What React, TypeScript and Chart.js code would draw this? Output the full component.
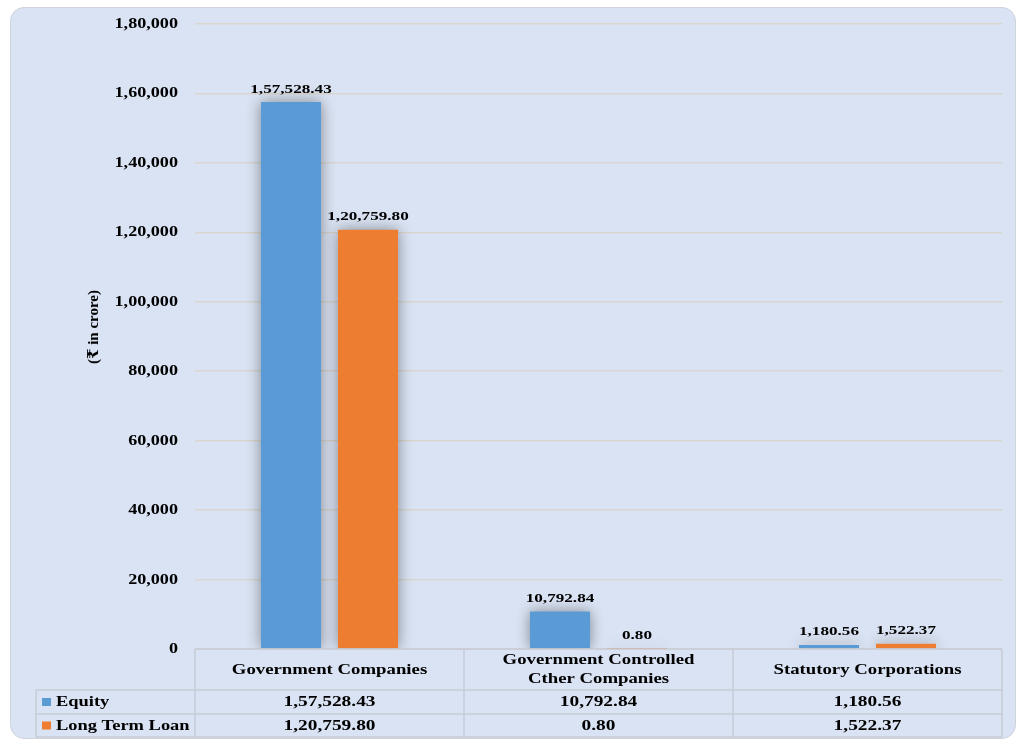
import React, { useEffect, useRef } from "react";
import { Chart, registerables } from "chart.js";

Chart.register(...registerables);

const categories: string[][] = [
  ["Government Companies"],
  ["Government Controlled", "Cther Companies"],
  ["Statutory Corporations"],
];
const seriesNames = ["Equity", "Long Term Loan"];
const equity = [157528.43, 10792.84, 1180.56];
const longTermLoan = [120759.8, 0.8, 1522.37];
const yTickValues = [0, 20000, 40000, 60000, 80000, 100000, 120000, 140000, 160000, 180000];
const yTickLabels = ["0", "20,000", "40,000", "60,000", "80,000", "1,00,000", "1,20,000", "1,40,000", "1,60,000", "1,80,000"];
const yTitle = "(₹ in crore)";

const seriesColors = ["#5b9bd5", "#ed7d31"];
const FONT = '"Liberation Serif", "DejaVu Serif", serif';
const TEXT = "#000000";
const LINE = "#c6ccd6";

function fmtIN(v: number, dec: number): string {
  const s = Math.abs(v).toFixed(dec);
  const [intPart, frac] = s.split(".");
  let last3 = intPart.slice(-3);
  let rest = intPart.slice(0, -3);
  if (rest) {
    rest = rest.replace(/\B(?=(\d{2})+(?!\d))/g, ",");
    last3 = rest + "," + last3;
  }
  return (v < 0 ? "-" : "") + last3 + (frac ? "." + frac : "");
}

function drawScaled(
  ctx: CanvasRenderingContext2D,
  text: string,
  x: number,
  y: number,
  align: CanvasTextAlign,
  sx: number,
  baseline: CanvasTextBaseline = "middle"
) {
  ctx.save();
  ctx.translate(x, y);
  ctx.scale(sx, 1);
  ctx.textAlign = align;
  ctx.textBaseline = baseline;
  ctx.fillText(text, 0, 0);
  ctx.restore();
}

const tablePlugin = {
  id: "tablePlugin",
  beforeDatasetsDraw(chart: any) {
    const c = chart.ctx as CanvasRenderingContext2D;
    c.save();
    c.shadowColor = "rgba(0,0,0,0.42)";
    c.shadowBlur = 14;
    c.shadowOffsetX = 0;
    c.shadowOffsetY = 0;
  },
  afterDatasetsDraw(chart: any) {
    const c = chart.ctx as CanvasRenderingContext2D;
    c.restore();
    c.save();
    c.fillStyle = TEXT;
    c.font = `bold 13.5px ${FONT}`;
    chart.data.datasets.forEach((ds: any, i: number) => {
      const meta = chart.getDatasetMeta(i);
      meta.data.forEach((bar: any, j: number) => {
        drawScaled(c, fmtIN(ds.data[j], 2), bar.x, bar.y - 9.5, "center", 1.27, "alphabetic");
      });
    });
    c.restore();
  },
  afterDraw(chart: any) {
    const c = chart.ctx as CanvasRenderingContext2D;
    const { left, right, bottom } = chart.chartArea;
    const yScale = chart.scales.y;
    const xScale = chart.scales.x;
    c.save();
    c.fillStyle = TEXT;

    // y tick labels
    c.font = `bold 15.5px ${FONT}`;
    yTickValues.forEach((v, i) => {
      drawScaled(c, yTickLabels[i], left - 17, yScale.getPixelForValue(v), "right", 1.17);
    });

    // y title
    c.save();
    c.translate(94, 327);
    c.rotate(-Math.PI / 2);
    c.font = `bold 15px ${FONT}`;
    c.textAlign = "center";
    c.textBaseline = "middle";
    c.fillText(yTitle, 0, 0);
    c.restore();

    // table geometry
    const tableLeft = 36;
    const r0 = bottom;
    const r1 = bottom + 41;
    const r2 = bottom + 65;
    const r3 = bottom + 88;
    const n = categories.length;
    const colEdges: number[] = [];
    const step = (right - left) / n;
    for (let i = 0; i <= n; i++) colEdges.push(left + step * i);

    c.strokeStyle = LINE;
    c.lineWidth = 1.5;
    c.beginPath();
    c.moveTo(left, r0);
    c.lineTo(right, r0);
    [r1, r2, r3].forEach((y) => {
      c.moveTo(tableLeft, y);
      c.lineTo(right, y);
    });
    c.moveTo(tableLeft, r1);
    c.lineTo(tableLeft, r3);
    colEdges.forEach((x) => {
      c.moveTo(x, r0);
      c.lineTo(x, r3);
    });
    c.stroke();

    // header labels
    c.font = `bold 15.5px ${FONT}`;
    categories.forEach((lines, i) => {
      const cx = xScale.getPixelForValue(i);
      const mid = (r0 + r1) / 2;
      const lh = 18.5;
      lines.forEach((ln, k) => {
        const y = mid + (k - (lines.length - 1) / 2) * lh;
        drawScaled(c, ln, cx, y, "center", 1.21);
      });
    });

    // rows
    const rows = [
      { y: (r1 + r2) / 2, data: chart.data.datasets[0].data },
      { y: (r2 + r3) / 2, data: chart.data.datasets[1].data },
    ];
    rows.forEach((row, ri) => {
      c.fillStyle = seriesColors[ri];
      c.fillRect(42, row.y - 4, 9, 8);
      c.fillStyle = TEXT;
      drawScaled(c, seriesNames[ri], 56, row.y, "left", 1.19);
      row.data.forEach((v: number, j: number) => {
        drawScaled(c, fmtIN(v, 2), xScale.getPixelForValue(j), row.y, "center", 1.25);
      });
    });
    c.restore();
  },
};

export default function App() {
  const ref = useRef<HTMLCanvasElement>(null);

  useEffect(() => {
    if (!ref.current) return;
    const chart = new Chart(ref.current, {
      type: "bar",
      data: {
        labels: categories.map((c) => c.join(" ")),
        datasets: [
          {
            label: seriesNames[0],
            data: equity,
            backgroundColor: seriesColors[0],
            borderWidth: 0,
            categoryPercentage: 0.5725,
            barPercentage: 0.78,
          },
          {
            label: seriesNames[1],
            data: longTermLoan,
            backgroundColor: seriesColors[1],
            borderWidth: 0,
            categoryPercentage: 0.5725,
            barPercentage: 0.78,
          },
        ],
      },
      options: {
        responsive: false,
        animation: false,
        layout: { padding: { top: 24, right: 16, bottom: 3, left: 0 } },
        plugins: {
          legend: { display: false },
          tooltip: { enabled: false },
          title: { display: false },
        },
        scales: {
          x: {
            ticks: { display: false },
            grid: { display: false },
            border: { display: false },
            afterFit: (s: any) => {
              s.height = 88;
            },
          },
          y: {
            min: 0,
            max: 180000,
            ticks: { display: false, stepSize: 20000 },
            grid: { color: "#d9d6cf", lineWidth: 1.5, drawTicks: false },
            border: { display: false },
            afterFit: (s: any) => {
              s.width = 195;
            },
          },
        },
      },
      plugins: [tablePlugin],
    } as any);
    return () => chart.destroy();
  }, []);

  return (
    <div style={{ position: "absolute", left: 0, top: 0, width: 1018, height: 740, background: "#ffffff", overflow: "hidden" }}>
      <div
        style={{
          position: "absolute",
          left: 10,
          top: 7,
          width: 1004,
          height: 730,
          background: "#dae3f3",
          border: "1px solid #cfd4dc",
          borderRadius: 14,
        }}
      />
      <canvas ref={ref} width={1018} height={740} style={{ position: "absolute", left: 0, top: 0 }} />
    </div>
  );
}
